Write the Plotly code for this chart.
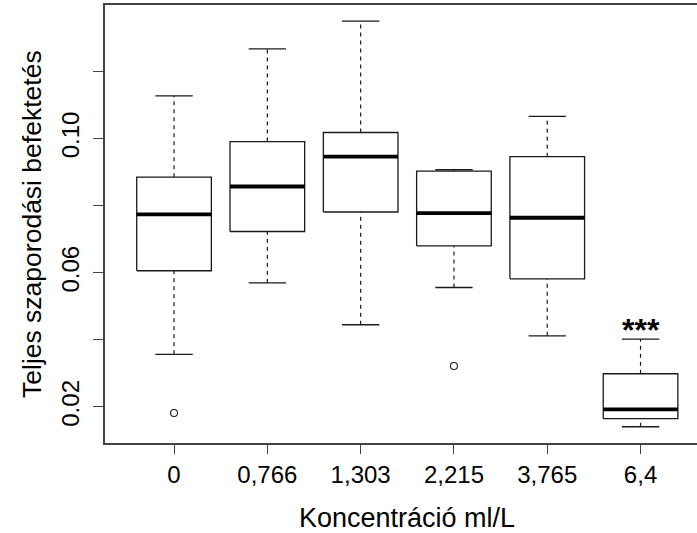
import plotly.graph_objects as go

# ---- data ----
categories = ["0", "0,766", "1,303", "2,215", "3,765", "6,4"]
lower_whisker = [0.0357, 0.0570, 0.0445, 0.0556, 0.0412, 0.0141]
q1 = [0.0606, 0.0723, 0.0781, 0.0680, 0.0582, 0.0165]
median = [0.0774, 0.0857, 0.0946, 0.0778, 0.0764, 0.0193]
q3 = [0.0885, 0.0991, 0.1018, 0.0903, 0.0946, 0.0299]
upper_whisker = [0.1127, 0.1267, 0.1350, 0.0907, 0.1066, 0.0402]
outlier_group = [0, 3]
outlier_values = [0.0182, 0.0322]
star_label = "***"
star_group = 5
star_value = 0.0444
y_tick_values = [0.02, 0.04, 0.06, 0.08, 0.10, 0.12]
y_tick_labels = ["0.02", "", "0.06", "", "0.10", ""]
x_title = "Koncentráció ml/L"
y_title = "Teljes szaporodási befektetés"

FONT = "Liberation Sans, Arial, sans-serif"
HALF_BOX = 0.4
HALF_CAP = 0.2
INK = "#1a1a1a"

positions = list(range(1, len(categories) + 1))

box_x, box_y = [], []
med_x, med_y = [], []
wh_x, wh_y = [], []
cap_x, cap_y = [], []
for p, lo, a, m, b, hi in zip(positions, lower_whisker, q1, median, q3, upper_whisker):
    box_x += [p - HALF_BOX, p + HALF_BOX, p + HALF_BOX, p - HALF_BOX, p - HALF_BOX, None]
    box_y += [a, a, b, b, a, None]
    med_x += [p - HALF_BOX, p + HALF_BOX, None]
    med_y += [m, m, None]
    wh_x += [p, p, None, p, p, None]
    wh_y += [b, hi, None, lo, a, None]
    cap_x += [p - HALF_CAP, p + HALF_CAP, None, p - HALF_CAP, p + HALF_CAP, None]
    cap_y += [hi, hi, None, lo, lo, None]

fig = go.Figure()
fig.add_trace(go.Scatter(x=wh_x, y=wh_y, mode="lines",
                         line=dict(color=INK, width=1.2, dash="4px,4px"),
                         hoverinfo="skip", showlegend=False))
fig.add_trace(go.Scatter(x=cap_x, y=cap_y, mode="lines",
                         line=dict(color=INK, width=1.3),
                         hoverinfo="skip", showlegend=False))
fig.add_trace(go.Scatter(x=box_x, y=box_y, mode="lines",
                         line=dict(color=INK, width=1.3),
                         hoverinfo="skip", showlegend=False))
fig.add_trace(go.Scatter(x=med_x, y=med_y, mode="lines",
                         line=dict(color="black", width=3.8),
                         hoverinfo="skip", showlegend=False))
fig.add_trace(go.Scatter(x=[positions[g] for g in outlier_group], y=outlier_values,
                         mode="markers",
                         marker=dict(symbol="circle-open", size=7, color=INK,
                                     line=dict(width=1.1, color=INK)),
                         hoverinfo="skip", showlegend=False))

fig.add_annotation(x=positions[star_group], y=star_value, xref="x", yref="y",
                   text="<b>" + star_label + "</b>", showarrow=False,
                   font=dict(family=FONT, size=32, color="black"),
                   xanchor="center", yanchor="middle", yshift=-5)

fig.add_annotation(x=3.5, y=0, xref="x", yref="paper", text=x_title,
                   showarrow=False, font=dict(family=FONT, size=27, color="black"),
                   xanchor="center", yanchor="middle", yshift=-75)
fig.add_annotation(x=0, y=0.5, xref="paper", yref="paper", text=y_title,
                   showarrow=False, textangle=-90,
                   font=dict(family=FONT, size=26.5, color="black"),
                   xanchor="center", yanchor="middle", xshift=-73)

fig.update_layout(
    width=697, height=533,
    margin=dict(l=105, r=0, t=5, b=90, autoexpand=False),
    paper_bgcolor="white", plot_bgcolor="white",
    font=dict(family=FONT, color="black"),
)
fig.update_xaxes(
    range=[0.26, 6.605], tickvals=positions, ticktext=categories,
    automargin=False,
    showgrid=False, zeroline=False,
    showline=True, mirror=True, linecolor="#444", linewidth=1.5,
    ticks="outside", ticklen=9, tickwidth=1.2, tickcolor="#444",
    ticklabelstandoff=0,
    tickfont=dict(family=FONT, size=24, color="black"),
)
fig.update_yaxes(
    range=[0.00926, 0.1398], tickvals=y_tick_values, ticktext=y_tick_labels,
    automargin=False,
    showgrid=False, zeroline=False,
    showline=True, mirror=False, linecolor="#444", linewidth=1.5,
    ticks="outside", ticklen=10, tickwidth=1.2, tickcolor="#444",
    tickangle=-90, ticklabelstandoff=5,
    tickfont=dict(family=FONT, size=24, color="black"),
)

fig.write_html("out.html", config={"displayModeBar": False},
               post_script="document.body.style.margin='0';")
